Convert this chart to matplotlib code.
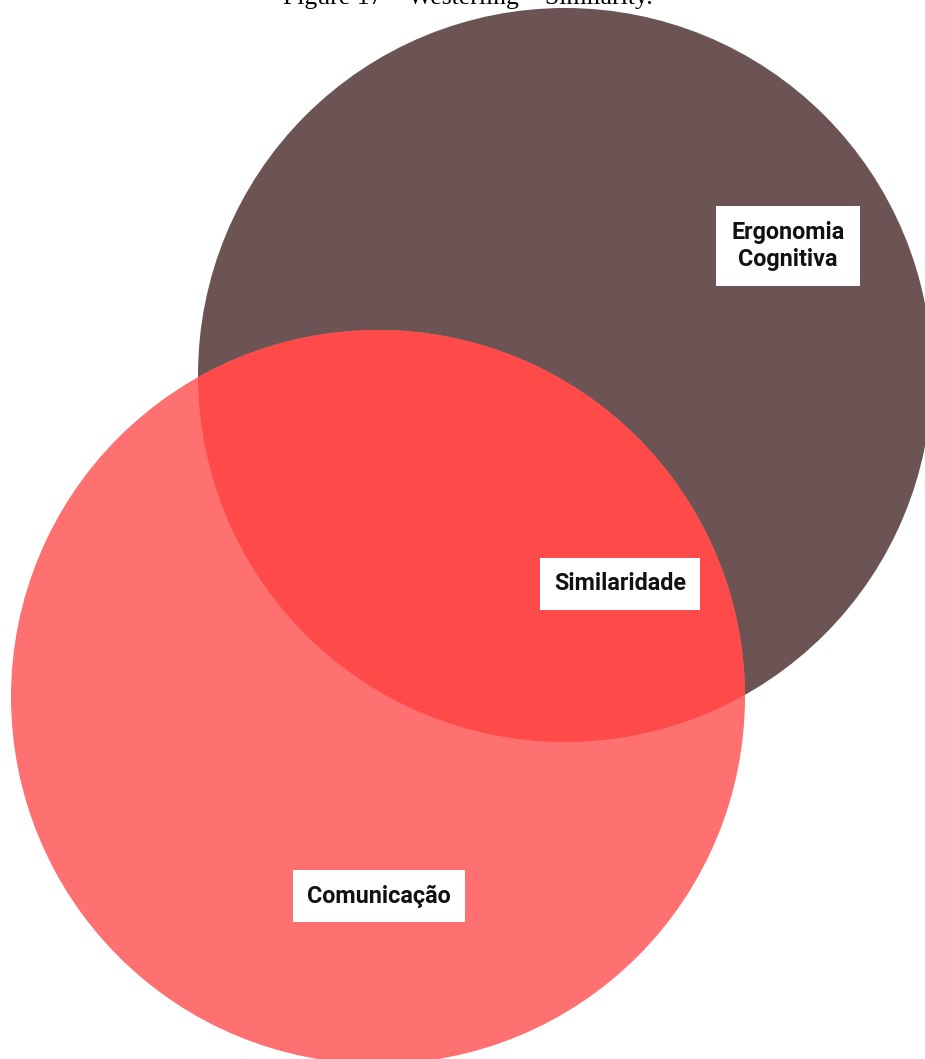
import matplotlib
matplotlib.use("Agg")
import matplotlib.pyplot as plt
from matplotlib.patches import Circle

# sets and labels
set_names = ["Ergonomia\nCognitiva", "Comunicação"]
overlap_name = "Similaridade"
caption = "Figure 17 – Westerling – Similarity."

# layout (pixel coordinates, y down)
centers = [(565, 375), (378, 697)]
radius = 367
label_pos = [(788, 246), (379, 896)]
overlap_pos = (620, 584)

colors = ["#6b5453", "#ff7070"]
overlap_color = "#ff4a4a"

W, H = 925, 1059
fig = plt.figure(figsize=(W / 100, H / 100), dpi=100)
ax = fig.add_axes([0, 0, 1, 1])
ax.set_xlim(0, W)
ax.set_ylim(H, 0)
ax.set_aspect("equal")
ax.axis("off")

c_top = Circle(centers[0], radius, facecolor=colors[0], edgecolor="none", zorder=1)
c_bot = Circle(centers[1], radius, facecolor=colors[1], edgecolor="none", zorder=2)
ax.add_patch(c_top)
ax.add_patch(c_bot)

# overlap region: lower circle clipped to upper circle
c_ov = Circle(centers[1], radius, facecolor=overlap_color, edgecolor="none", zorder=3)
ax.add_patch(c_ov)
clip = Circle(centers[0], radius, transform=ax.transData)
c_ov.set_clip_path(clip)

box = dict(boxstyle="square,pad=0.62", facecolor="white", edgecolor="none")
font = dict(family="Roboto", fontweight="bold", fontsize=16.8, color="#111111")

ax.text(*label_pos[0], set_names[0], ha="center", va="center", zorder=5,
        linespacing=1.22, bbox=dict(boxstyle="square,pad=0.66", facecolor="white",
                                   edgecolor="none"), **font)
ax.text(*label_pos[1], set_names[1], ha="center", va="center", zorder=5,
        bbox=box, **font)
ax.text(*overlap_pos, overlap_name, ha="center", va="center", zorder=5,
        bbox=box, **font)

# caption, cropped at the top edge as in the source page
ax.text(W / 2 + 5, 4, caption, ha="center", va="baseline", zorder=6,
        family="Liberation Serif", fontsize=18.5, color="black")

fig.savefig("out.png", dpi=100)
